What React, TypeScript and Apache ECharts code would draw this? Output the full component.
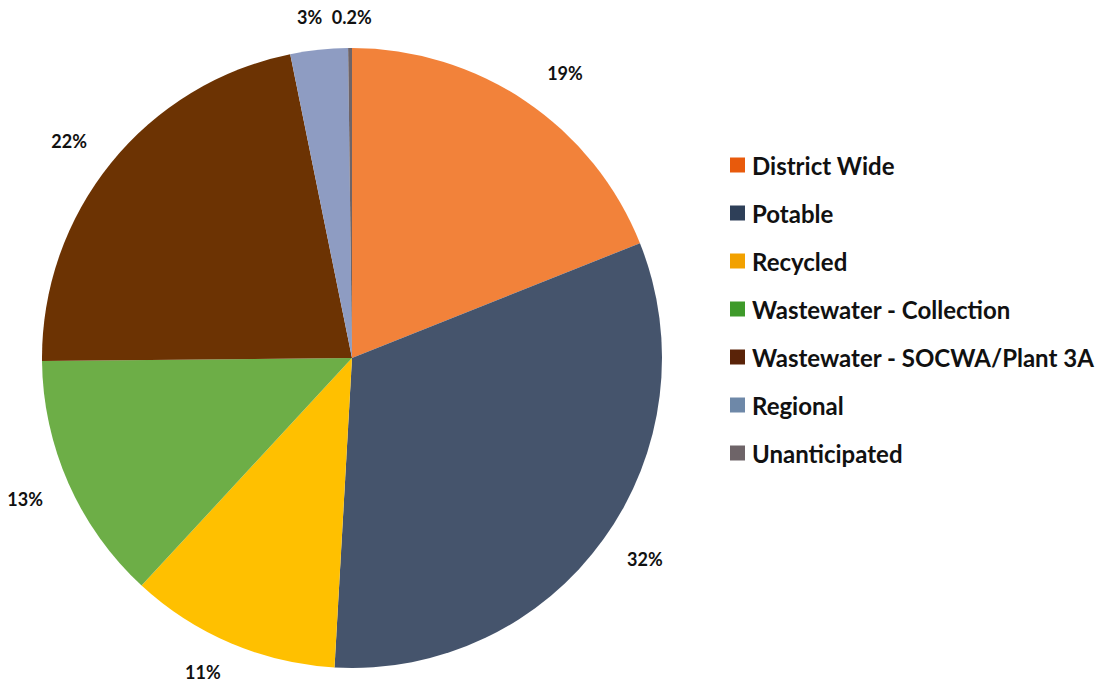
import React, { useEffect, useRef } from "react";
import * as echarts from "echarts";

const categories = [
  "District Wide",
  "Potable",
  "Recycled",
  "Wastewater - Collection",
  "Wastewater - SOCWA/Plant 3A",
  "Regional",
  "Unanticipated",
];
const shares = [19, 32, 11, 13, 22, 3, 0.2];
const sliceColors = ["#F2823A", "#45546C", "#FFC000", "#6DAE47", "#6C3303", "#8E9CC2", "#6E6468"];
const legendColors = ["#E85A0C", "#2E3F58", "#F2A100", "#3E9A2A", "#5A2308", "#6E88A8", "#6E6468"];

export default function App() {
  const ref = useRef<HTMLDivElement>(null);
  useEffect(() => {
    document.body.style.margin = "0";
    const chart = echarts.init(ref.current!, null, { renderer: "svg" });
    // small nudges so each outside label sits where the reference puts it
    const labelNudges = [
      [16, 6],
      [8, -4],
      [-12, -9],
      [-6, -1],
      [-10, 4],
      [-5, 8],
      [2, 10],
    ];
    const pieData = categories.map((name, i) => ({
      name,
      value: shares[i],
      itemStyle: { color: sliceColors[i] },
    }));
    const labelData = categories.map((name, i) => ({
      name,
      value: shares[i],
      label: { offset: labelNudges[i] },
    }));
    chart.setOption({
      animation: false,
      backgroundColor: "#ffffff",
      legend: {
        orient: "vertical",
        left: 730,
        top: 153,
        padding: 0,
        itemWidth: 15,
        itemHeight: 15,
        itemGap: 24,
        icon: "rect",
        selectedMode: false,
        data: categories.map((name, i) => ({ name, itemStyle: { color: legendColors[i] } })),
        textStyle: {
          fontFamily: "Lato",
          fontWeight: "bold",
          fontSize: 24,
          lineHeight: 24,
          color: "#111111",
          padding: [0, 0, 0, 2],
        },
      },
      series: [
        {
          type: "pie",
          center: [352, 358],
          radius: 310,
          startAngle: 90,
          clockwise: true,
          silent: true,
          label: { show: false },
          labelLine: { show: false },
          itemStyle: { borderWidth: 0 },
          data: pieData,
        },
        {
          type: "pie",
          center: [352, 358],
          radius: [310, 386],
          startAngle: 90,
          clockwise: true,
          silent: true,
          itemStyle: { color: "rgba(0,0,0,0)", borderWidth: 0 },
          label: {
            show: true,
            position: "inside",
            formatter: "{c}%",
            fontFamily: "Lato",
            fontWeight: "bold",
            fontSize: 18,
            color: "#111111",
          },
          labelLine: { show: false },
          data: labelData,
        },
      ],
    });
    return () => chart.dispose();
  }, []);
  return <div ref={ref} style={{ width: 1102, height: 685 }} />;
}
